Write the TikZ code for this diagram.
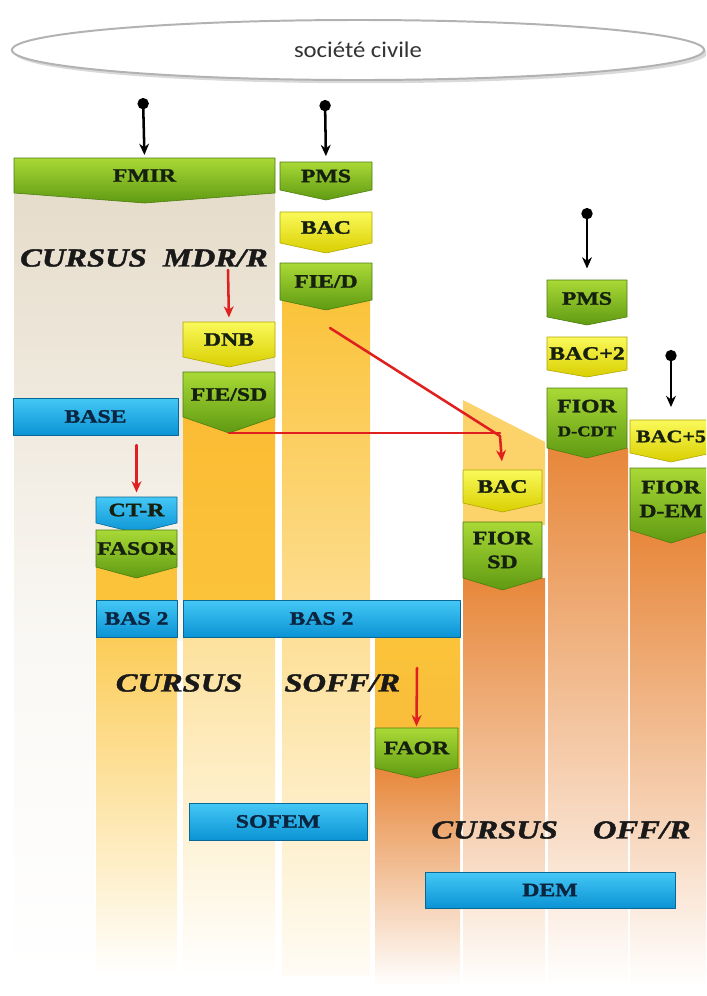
\documentclass[tikz,border=0pt]{standalone}
\usepackage{fontspec}
\setmainfont{Liberation Serif}
\newfontfamily\lblfont[FakeStretch=1.25,FakeBold=1.6]{Liberation Serif}
\newfontfamily\civfont[FakeStretch=1.1]{Carlito}
\usetikzlibrary{arrows.meta,shapes.geometric,shadows}
\definecolor{grtop}{HTML}{A9D936}
\definecolor{grbot}{HTML}{5F9A12}
\definecolor{yetop}{HTML}{FAF95A}
\definecolor{yebot}{HTML}{D9CF00}
\definecolor{bltop}{HTML}{45C8F6}
\definecolor{blbot}{HTML}{0B93D4}
\definecolor{beige}{HTML}{E6DCCA}
\definecolor{gold}{HTML}{FBC33A}
\definecolor{ambr}{HTML}{E7873A}
\definecolor{txt}{HTML}{16200F}
\definecolor{navy}{HTML}{0B2440}
\definecolor{redl}{HTML}{E0201E}

\tikzset{
  grsh/.style={top color=grtop,bottom color=grbot,draw=grbot!80!black,line width=0.4pt},
  yesh/.style={top color=yetop,bottom color=yebot,draw=yebot!80!black,line width=0.4pt},
  blsh/.style={top color=bltop,bottom color=blbot,draw=blbot!70!black,line width=0.4pt},
  lbl/.style={inner sep=0pt,font=\lblfont\bfseries\fontsize{13.5}{17}\selectfont,text=txt,align=center},
  blbox/.style={blsh,inner sep=0pt,font=\lblfont\bfseries\fontsize{13.5}{17}\selectfont,text=navy},
  cursus/.style={font=\lblfont\bfseries\itshape\fontsize{18.5}{20}\selectfont,text=black!90},
  colfade/.style={top color=ambr,middle color=ambr!65,bottom color=white},
  blkarr/.style={{Circle[length=8pt]}-{Stealth[length=8pt,width=7pt]},line width=1.8pt,black},
  redarr/.style={-{Stealth[length=8pt,width=7pt]},line width=1.8pt,redl},
  redln/.style={line width=1.8pt,redl}
}

% chevron: nom, x1, x2, haut, bas, pointe, style, texte
\newcommand{\chev}[8]{%
  \shade[#7] (#2,#4) -- (#3,#4) -- (#3,#5) -- ({(#2+#3)/2},#6) -- (#2,#5) -- cycle;
  \coordinate (#1-tip) at ({(#2+#3)/2},#6);
  \node[lbl,minimum width={(#3-#2)*0.025cm},minimum height={(#5-#4)*0.025cm}] (#1) at ({(#2+#3)/2},{(#4+#5)/2}) {#8};
}
% barre bleue: nom, x1, x2, haut, bas, texte
\newcommand{\blbar}[6]{%
  \node[blbox,minimum width={(#3-#2)*0.025cm},minimum height={(#5-#4)*0.025cm}] (#1) at ({(#2+#3)/2},{(#4+#5)/2}) {#6};
}

\begin{document}
\begin{tikzpicture}[x=0.025cm,y=-0.025cm,line cap=round,line join=round]
\useasboundingbox (0,0) rectangle (706,996);
\clip (0,0) rectangle (706,996);
% fonds des colonnes
\shade[top color=beige,bottom color=beige!20] (14,193) rectangle (275,640);
\shade[top color=beige!20,bottom color=white] (14,640) rectangle (95,975);
\shade[top color=gold,bottom color=gold!5] (282,300) rectangle (370,975);
\shade[top color=gold!90!orange,bottom color=gold] (183,417) rectangle (275,600);
\shade[top color=gold!50,bottom color=white] (183,637) rectangle (275,975);
\fill[gold] (96,567) rectangle (177,600);
\shade[top color=gold!85,bottom color=white] (96,637) rectangle (177,975);
\shade[top color=gold,bottom color=gold!85!ambr] (375,637) rectangle (460,770);
\shade[colfade] (375,768) rectangle (460,985);
\fill[gold!75] (463,400) -- (545,442) -- (545,525) -- (463,525) -- cycle;
\shade[colfade] (463,578) rectangle (545,985);
\shade[colfade] (548,448) rectangle (628,985);
\shade[colfade] (630,530) rectangle (706,985);

% societe civile
\node[ellipse,draw=gray!60,line width=1.4pt,fill=white,drop shadow={opacity=0.3},
  minimum width=17.3cm,minimum height=1.5cm,font=\civfont\fontsize{16}{17}\selectfont,text=black!80] (civ) at (358,50) {société civile};

% cursus MDR/R
\chev{fmir}{14}{275}{158}{193}{203}{grsh}{FMIR}
\chev{pmsa}{280}{372}{162}{190}{200}{grsh}{PMS}
\chev{baca}{280}{372}{212}{243}{253}{yesh}{BAC}
\chev{fied}{280}{372}{263}{300}{310}{grsh}{FIE/D}
\chev{dnb}{183}{275}{322}{357}{367}{yesh}{DNB}
\chev{fiesd}{183}{275}{372}{417}{433}{grsh}{FIE/SD}
\blbar{base}{13}{178}{398}{435}{BASE}
\chev{ctr}{96}{177}{497}{523}{533}{blsh}{CT-R}
\chev{fasor}{96}{177}{530}{567}{578}{grsh}{FASOR}
\blbar{basa}{96}{177}{600}{637}{BAS 2}
\blbar{basb}{183}{460}{600}{637}{BAS 2}
\chev{faor}{375}{458}{728}{768}{778}{grsh}{FAOR}
\blbar{sofem}{189}{367}{803}{840}{SOFEM}

% cursus OFF/R
\chev{pmsb}{547}{627}{280}{317}{325}{grsh}{PMS}
\chev{bacd}{547}{627}{337}{370}{377}{yesh}{BAC+2}
\chev{cdt}{547}{627}{388}{448}{458}{grsh}{FIOR\\{\fontsize{10.5}{12}\selectfont D-CDT}}
\chev{bacf}{630}{712}{420}{453}{462}{yesh}{\fontsize{12.5}{14}\selectfont BAC+5}
\chev{fiorem}{630}{712}{468}{530}{543}{grsh}{FIOR\\D-EM}
\chev{bacb}{463}{542}{470}{503}{512}{yesh}{BAC}
\chev{fiorsd}{463}{542}{522}{578}{590}{grsh}{FIOR\\SD}
\blbar{dem}{425}{675}{872}{908}{DEM}

% titres
\node[cursus] (mdr) at (144,258) {CURSUS\ \ MDR/R};
\node[cursus] (soff) at (258,683) {CURSUS\hspace{30pt}SOFF/R};
\node[cursus] (off) at (561,830) {CURSUS\hspace{25pt}OFF/R};

% entrees depuis la societe civile
\coordinate (da) at (143,98);
\coordinate (db) at (325,100);
\coordinate (dc) at (587,208);
\coordinate (dd) at (671,350);
\draw[blkarr,shorten >=2pt] (da) -- (fmir.north);
\draw[blkarr,shorten >=4pt] (db) -- (pmsa.north);
\draw[blkarr,shorten >=8pt] (dc) -- (pmsb.north);
\draw[blkarr,shorten >=9pt] (dd) -- (bacf.north);

% passerelles
\coordinate (ra) at (228,270);
\coordinate (rd) at (330,328);
\coordinate (rj) at (500,436);
\coordinate (rf) at (417,668);
\draw[redarr,shorten >=3pt] (ra) -- (dnb.north);
\draw[redln] (fiesd-tip) -- (fiesd-tip -| rj);
\draw[redln] (rd) -- (rj);
\draw[redarr,shorten >=6pt] (rj) -- (bacb.north);
\draw[redarr,shorten <=7pt,shorten >=3pt] (ctr.north |- base.south) -- (ctr.north);
\draw[redarr,shorten >=1pt] (rf) -- (faor.north);
\end{tikzpicture}
\end{document}
